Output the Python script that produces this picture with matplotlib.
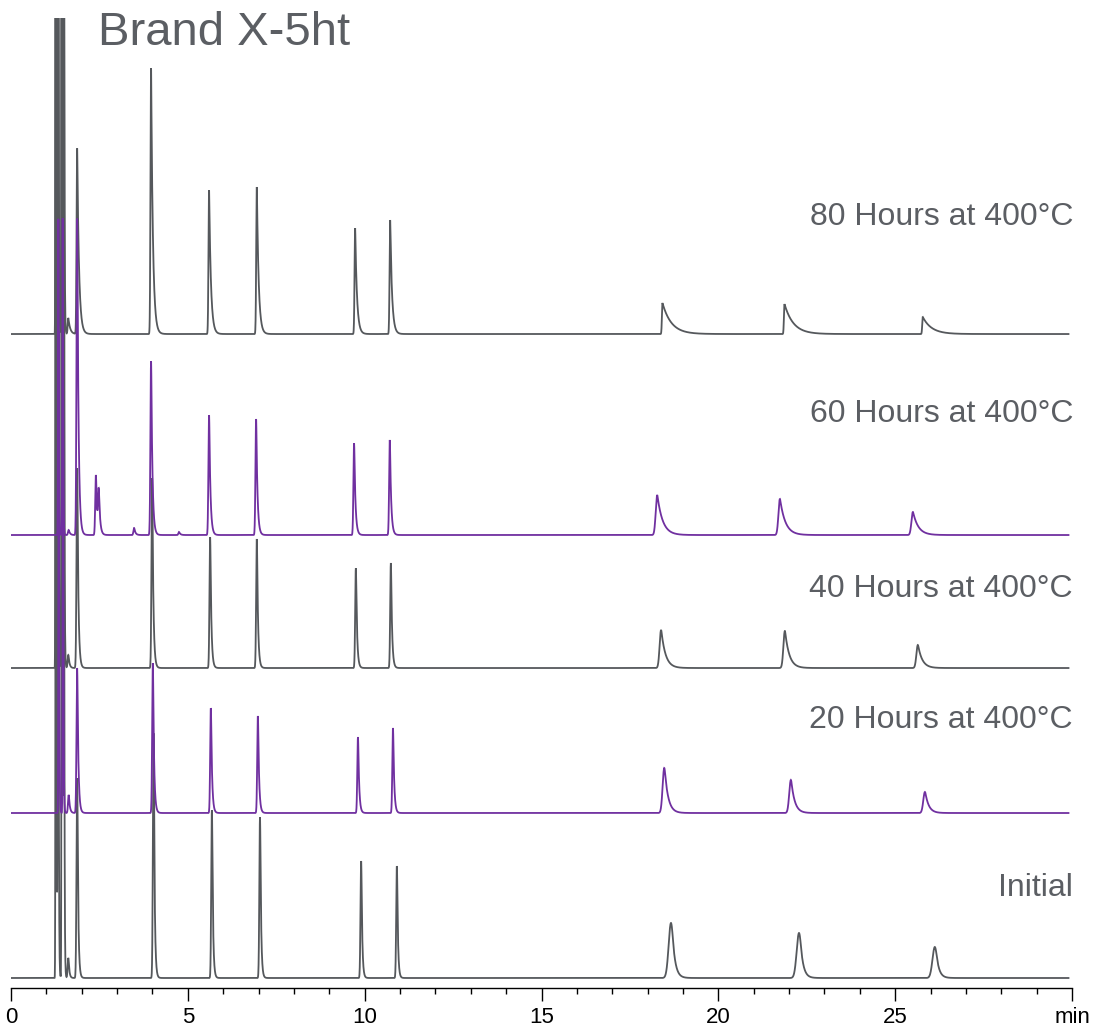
import matplotlib.pyplot as plt
import numpy as np

plt.rcParams['font.family'] = ['Liberation Sans', 'DejaVu Sans']

gray = "#55585c"
purple = "#7030a0"
text_gray = "#5b5e63"

# retention times (min) and peak heights for each run
initial_rt = [1.27, 1.33, 1.44, 1.49, 1.62, 1.87, 4.03, 5.68, 7.04, 9.90, 10.91, 18.66, 22.28, 26.12]
initial_h = [1300, 1300, 1300, 1300, 20, 200, 245, 168, 161, 117, 112, 55, 45, 31]

h20_rt = [1.35, 1.47, 1.63, 1.87, 4.01, 5.65, 6.98, 9.81, 10.80, 18.47, 22.05, 25.84]
h20_h = [483, 470, 18, 145, 150, 105, 97, 76, 85, 45, 33, 21]

h40_rt = [1.27, 1.33, 1.44, 1.49, 1.62, 1.87, 3.99, 5.63, 6.95, 9.75, 10.74, 18.38, 21.88, 25.64]
h40_h = [1300, 1300, 1300, 1300, 13, 200, 190, 131, 129, 100, 105, 38, 37, 23]

h60_rt = [1.34, 1.46, 1.63, 1.87, 2.40, 2.48, 3.48, 3.96, 4.75, 5.60, 6.93, 9.70, 10.71, 18.27, 21.74, 25.50]
h60_h = [317, 317, 5, 317, 60, 40, 7, 174, 3, 120, 116, 92, 95, 40, 36, 23]

h80_rt = [1.27, 1.33, 1.44, 1.49, 1.62, 1.87, 3.96, 5.60, 6.95, 9.73, 10.72, 18.42, 21.87, 25.78]
h80_h = [1300, 1300, 1300, 1300, 16, 186, 266, 144, 147, 106, 114, 31, 30, 17]

labels = ["Initial", "20 Hours at 400°C", "40 Hours at 400°C", "60 Hours at 400°C", "80 Hours at 400°C"]
offsets = [10, 175, 320, 453, 654]
label_y = [92, 260, 391, 566, 763]

# peak width (sigma) and tail constant: (early sigma, early tau, late sigma, late tau)
widths = [(0.018, 0.025, 0.065, 0.08),
          (0.018, 0.03, 0.045, 0.10),
          (0.018, 0.03, 0.04, 0.12),
          (0.018, 0.035, 0.04, 0.15),
          (0.016, 0.05, 0.015, 0.25)]

runs = [(initial_rt, initial_h, gray),
        (h20_rt, h20_h, purple),
        (h40_rt, h40_h, gray),
        (h60_rt, h60_h, purple),
        (h80_rt, h80_h, gray)]

t = np.linspace(0, 29.9, 12000)


def peak(t, mu, h, s, tau):
    # gaussian front, exponential tail joined where the slopes match
    d = t - mu
    d0 = s * s / tau
    y = np.exp(-0.5 * (d / s) ** 2)
    tail = d > d0
    y[tail] = np.exp(0.5 * (d0 / s) ** 2 - d[tail] / tau)
    return h * y


fig = plt.figure(figsize=(10.97, 10.31), dpi=100)
ax = fig.add_axes([0.01003, 0.04171, 0.9672, 0.9408])

signals = []
for i, (rt, hts, col) in enumerate(runs):
    se, te, sl, tl = widths[i]
    y = np.zeros_like(t)
    for mu, h in zip(rt, hts):
        if mu < 1.6:
            # solvent front: very narrow
            y += peak(t, mu, h, 0.009, 0.010)
        elif mu < 12:
            y += peak(t, mu, h, se, te)
        else:
            y += peak(t, mu, h, sl, tl)
    signals.append(y + offsets[i])

# grey runs underneath, purple runs on top
for i in [0, 2, 4, 1, 3]:
    ax.plot(t, signals[i], color=runs[i][2], lw=1.3, solid_joinstyle='miter')

for i in range(5):
    ax.text(30.03, label_y[i], labels[i], ha='right', va='baseline',
            fontsize=23, color=text_gray)

ax.text(2.45, 943, "Brand X-5ht", ha='left', va='baseline', fontsize=34,
        color=text_gray, clip_on=False)

ax.set_xlim(0, 30)
ax.set_ylim(0, 970)
for side in ['left', 'right', 'top']:
    ax.spines[side].set_visible(False)
ax.spines['bottom'].set_linewidth(1.0)
ax.set_yticks([])
ax.set_xticks([0, 5, 10, 15, 20, 25, 30])
ax.set_xticklabels(['0', '5', '10', '15', '20', '25', 'min'])
ax.set_xticks(np.arange(0, 31, 1), minor=True)
ax.tick_params(axis='x', which='major', length=9.5, width=1.0, labelsize=16, pad=4)
ax.tick_params(axis='x', which='minor', length=4, width=1.0)

fig.savefig("out.png", dpi=100)
